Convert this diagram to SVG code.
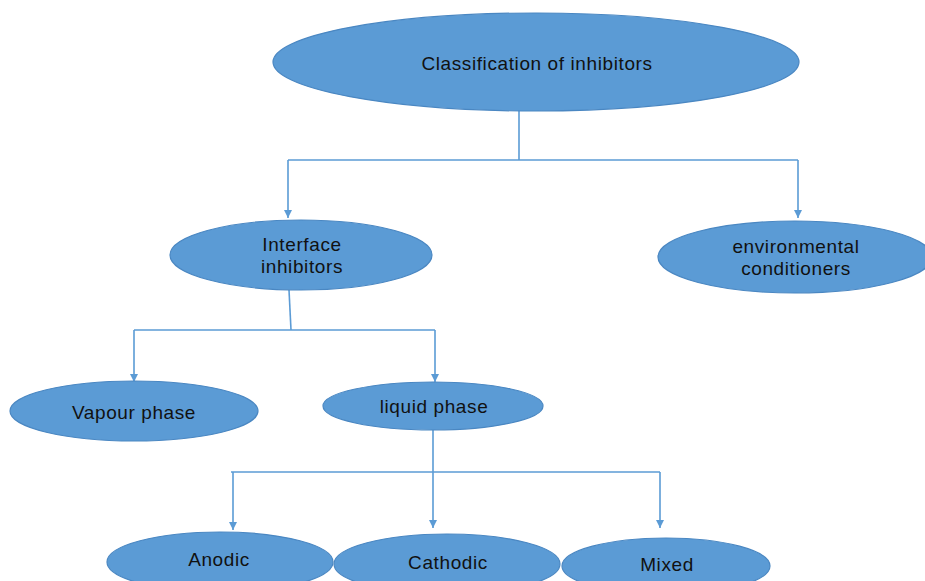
<svg xmlns="http://www.w3.org/2000/svg" width="925" height="581" viewBox="0 0 925 581">
<style>
.n{fill:#5B9BD5;stroke:#4A87C2;stroke-width:1.2}
.t{font-family:"Liberation Sans",Arial,sans-serif;font-size:19px;letter-spacing:0.6px;fill:#111;text-anchor:middle;dominant-baseline:central}
.c{fill:none;stroke:#5B9BD5;stroke-width:1.6}
</style>
<defs>
<marker id="a" markerWidth="8" markerHeight="8" refX="8" refY="4" orient="auto" markerUnits="userSpaceOnUse" viewBox="0 0 8 8">
<path d="M0,0 L8,4 L0,8 Z" fill="#5B9BD5"/>
</marker>
</defs>
<rect width="925" height="581" fill="#fff"/>
<g id="connectors">
<path class="c" d="M519,110 V160"/>
<path class="c" d="M288,160 H798"/>
<path class="c" d="M288,160 V218" marker-end="url(#a)"/>
<path class="c" d="M798,160 V218" marker-end="url(#a)"/>
<path class="c" d="M289,290 L291,330"/>
<path class="c" d="M134,330 H435"/>
<path class="c" d="M134,330 V382" marker-end="url(#a)"/>
<path class="c" d="M435,330 V382" marker-end="url(#a)"/>
<path class="c" d="M433,430 V528" marker-end="url(#a)"/>
<path class="c" d="M231,472 H660"/>
<path class="c" d="M233,472 V530" marker-end="url(#a)"/>
<path class="c" d="M660,472 V528" marker-end="url(#a)"/>
</g>
<g id="root"><ellipse class="n" cx="536" cy="62" rx="263" ry="49"/><text class="t" x="537" y="63">Classification of inhibitors</text></g>
<g id="interface"><ellipse class="n" cx="301" cy="255" rx="131" ry="35"/><text class="t" x="302" y="244">Interface</text><text class="t" x="302" y="266">inhibitors</text></g>
<g id="environmental"><ellipse class="n" cx="795" cy="257" rx="137" ry="36"/><text class="t" x="796" y="246">environmental</text><text class="t" x="796" y="268">conditioners</text></g>
<g id="vapour"><ellipse class="n" cx="134" cy="411" rx="124" ry="30"/><text class="t" x="134" y="412">Vapour phase</text></g>
<g id="liquid"><ellipse class="n" cx="433" cy="406" rx="110" ry="24"/><text class="t" x="434" y="406">liquid phase</text></g>
<g id="anodic"><ellipse class="n" cx="220" cy="562" rx="113" ry="30"/><text class="t" x="219" y="559">Anodic</text></g>
<g id="cathodic"><ellipse class="n" cx="447" cy="564" rx="113" ry="30"/><text class="t" x="448" y="562">Cathodic</text></g>
<g id="mixed"><ellipse class="n" cx="666" cy="566" rx="104" ry="28"/><text class="t" x="667" y="564">Mixed</text></g>
</svg>
